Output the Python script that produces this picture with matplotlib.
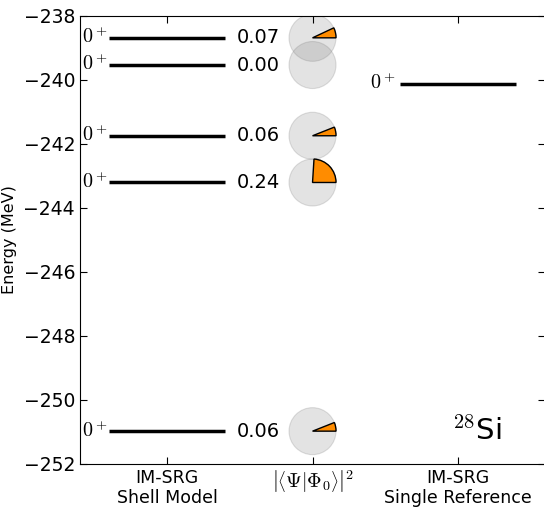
import matplotlib
matplotlib.use('Agg')
import matplotlib.pyplot as plt
import matplotlib.transforms as mtransforms
from matplotlib.patches import Circle, Wedge

plt.rcParams['mathtext.fontset'] = 'cm'

# IM-SRG shell model 0+ states (MeV) and overlap with the reference state
sm_energies = [-238.69, -239.54, -241.75, -243.21, -250.98]
sm_overlaps = [0.07, 0.00, 0.06, 0.24, 0.06]
# IM-SRG single reference ground state (MeV)
sr_energies = [-240.13]

tick_labels = ['IM-SRG\nShell Model',
               r'$\left|\left\langle\Psi|\Phi_0\right\rangle\right|^2$',
               'IM-SRG\nSingle Reference']

fig = plt.figure(figsize=(5.44, 5.08), dpi=100)
ax = fig.add_axes([0.147, 0.087, 0.855, 0.882])

# shell model levels
for e, w in zip(sm_energies, sm_overlaps):
    ax.plot([0.6, 1.4], [e, e], color='black', lw=2.5, solid_capstyle='butt')
    ax.text(0.415, e - 0.17, r'$0^+$', ha='left', va='baseline', fontsize=14.5)
    ax.text(1.48, e, '%.2f' % w, ha='left', va='center', fontsize=14)

    # little pie: grey disc plus orange slice for the overlap
    trans = fig.dpi_scale_trans + mtransforms.ScaledTranslation(2.0, e, ax.transData)
    ax.add_patch(Circle((0, 0), 0.235, transform=trans, facecolor='0.5',
                        alpha=0.22, edgecolor='0.45', lw=0.8))
    if w > 0:
        ax.add_patch(Wedge((0, 0), 0.235, 0, 360 * w, transform=trans,
                           facecolor='darkorange', edgecolor='black', lw=1))

# single reference level
for e in sr_energies:
    ax.plot([2.6, 3.4], [e, e], color='black', lw=2.5, solid_capstyle='butt')
    ax.text(2.575, e - 0.17, r'$0^+$', ha='right', va='baseline', fontsize=14.5)

ax.text(3.13, -250.98, r'$^{28}$Si', ha='center', va='center', fontsize=21)

ax.set_xlim(0.4, 3.6)
ax.set_ylim(-252, -238)
ax.set_yticks(range(-252, -237, 2))
ax.set_xticks([1, 2, 3])
ax.set_xticklabels(tick_labels, fontsize=12.5)
ax.get_xticklabels()[1].set_fontsize(14.5)
ax.tick_params(axis='y', labelsize=13.5)
ax.tick_params(direction='in', top=True, right=True, length=5)
ax.set_ylabel('Energy (MeV)', fontsize=11.5)
ax.yaxis.set_label_coords(-0.135, 0.5)

plt.savefig('out.png', dpi=100)
